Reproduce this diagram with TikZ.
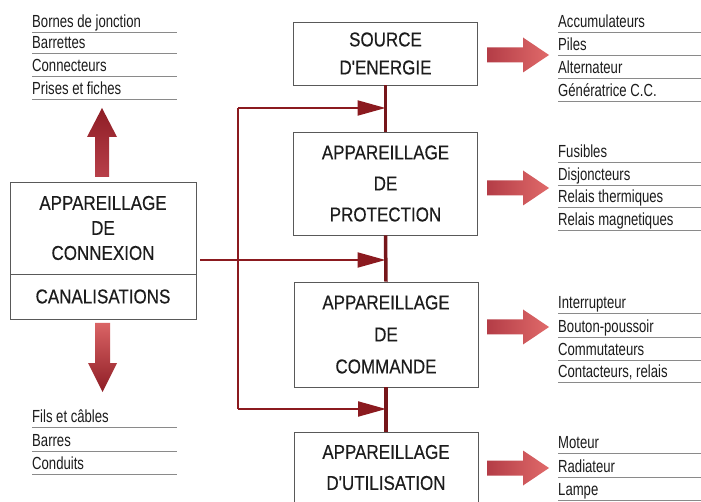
\documentclass[tikz,border=0pt]{standalone}
\usepackage{fontspec}
\setmainfont{Liberation Sans}
\newfontfamily\boxfont[FakeStretch=0.85,FakeBold=0.4]{Liberation Sans}
\newfontfamily\listfont[FakeStretch=0.75]{Liberation Sans}
\usetikzlibrary{arrows.meta}
\definecolor{wire}{HTML}{8B1A1F}
\definecolor{ink}{HTML}{1C1C1C}
\definecolor{rulegray}{HTML}{8A8A8A}
\definecolor{darkarrow}{HTML}{8E1D25}
\definecolor{midarrow}{HTML}{B8404A}
\definecolor{lightarrow}{HTML}{E06A6A}
\begin{document}
\begin{tikzpicture}[x=1pt,y=-1pt,
  block/.style={draw=black!65, line width=0.8pt, fill=white, inner sep=0pt,
    text=ink, align=center, minimum width=184pt},
  item/.style={anchor=base west, inner sep=0pt, text=ink,
    font=\listfont\fontsize{17.5}{18}\selectfont},
  rule/.style={draw=rulegray, line width=0.8pt},
  link/.style={draw=wire, line width=2pt},
  trunk/.style={draw=wire!85!black, line width=3.5pt},
  linkarrow/.style={link, -{Triangle[length=28pt,width=15pt]}}
]
\clip (0,0) rectangle (701,502);
\fill[white] (0,0) rectangle (701,502);

% ---- main chain of blocks ----
\node[block, minimum height=63pt, font=\boxfont\fontsize{20}{28}\selectfont]
  (src) at (385.5,53.5) {SOURCE\\D'ENERGIE};
\node[block, minimum height=103pt, font=\boxfont\fontsize{20}{31}\selectfont]
  (prot) at (385.5,183.5) {APPAREILLAGE\\DE\\PROTECTION};
\node[block, minimum height=105pt, font=\boxfont\fontsize{20}{32}\selectfont]
  (cmd) at (386,334.5) {APPAREILLAGE\\DE\\COMMANDE};
\node[block, minimum height=71pt, font=\boxfont\fontsize{20}{31}\selectfont]
  (util) at (386,467.5) {APPAREILLAGE\\D'UTILISATION};

% ---- connection block ----
\node[block, minimum width=186pt, minimum height=92pt,
  font=\boxfont\fontsize{20}{25}\selectfont]
  (conn) at (103,228) {APPAREILLAGE\\DE\\CONNEXION};
\node[block, minimum width=186pt, minimum height=45pt,
  font=\boxfont\fontsize{20}{25}\selectfont]
  (canal) at (103,296.5) {CANALISATIONS};

% ---- trunk between blocks ----
\draw[trunk] (src.south) -- (prot.north);
\draw[trunk] (prot.south) -- (cmd.north);
\draw[trunk] (cmd.south) -- (util.north);

% ---- feeds from the connection block ----
\coordinate (cx) at (200,260);
\coordinate (jt) at (238,108);
\coordinate (jb) at (238,409);
\coordinate (t1) at (385.5,108);
\coordinate (t2) at (385.5,260);
\coordinate (t3) at (386,409);
\draw[link] (jt) -- (jb);
\draw[linkarrow] (jt) -- (t1);
\draw[linkarrow] (cx) -- (t2);
\draw[linkarrow] (jb) -- (t3);

% ---- thick arrows of the connection block ----
\shade[top color=darkarrow, bottom color=midarrow]
  (95,177) -- (95,137) -- (87,137) -- (102,108) -- (117,137) -- (109,137) -- (109,177) -- cycle;
\shade[top color=lightarrow!85!midarrow, bottom color=darkarrow]
  (95,323) -- (95,363) -- (88,363) -- (102.5,392) -- (117,363) -- (110,363) -- (110,323) -- cycle;

% ---- thick arrows towards the lists ----
\foreach \c in {55,188,327,468}{
  \shade[left color=midarrow!90!darkarrow, right color=lightarrow]
    (487,{\c-7.5}) -- (523,{\c-7.5}) -- (523,{\c-17.5}) -- (549,\c)
    -- (523,{\c+17.5}) -- (523,{\c+7.5}) -- (487,{\c+7.5}) -- cycle;
}

% ---- lists ----
\foreach \y/\t [count=\i] in {32/Bornes de jonction, 53/Barrettes,
    76/Connecteurs, 99/Prises et fiches}{
  \node[item] (lt\i) at (32,{\y-4.5}) {\t};
  \draw[rule] (32,\y) -- (177,\y);
}
\foreach \y/\t [count=\i] in {427/Fils et câbles, 451/Barres, 474/Conduits}{
  \node[item] (lb\i) at (32,{\y-4.5}) {\t};
  \draw[rule] (32,\y) -- (177,\y);
}
\foreach \y/\t [count=\i] in {32/Accumulateurs, 55/Piles, 78/Alternateur,
    101/Génératrice C.C.}{
  \node[item] (ra\i) at (558,{\y-4.5}) {\t};
  \draw[rule] (558,\y) -- (701,\y);
}
\foreach \y/\t [count=\i] in {162/Fusibles, 185/Disjoncteurs,
    207/Relais thermiques, 230/Relais magnetiques}{
  \node[item] (rb\i) at (558,{\y-4.5}) {\t};
  \draw[rule] (558,\y) -- (701,\y);
}
\foreach \y/\t [count=\i] in {313/Interrupteur, 337/Bouton-poussoir,
    360/Commutateurs, 382/{Contacteurs, relais}}{
  \node[item] (rc\i) at (558,{\y-4.5}) {\t};
  \draw[rule] (558,\y) -- (701,\y);
}
\foreach \y/\t [count=\i] in {453/Moteur, 477/Radiateur, 500/Lampe}{
  \node[item] (rd\i) at (558,{\y-4.5}) {\t};
  \draw[rule] (558,\y) -- (701,\y);
}
\end{tikzpicture}
\end{document}
